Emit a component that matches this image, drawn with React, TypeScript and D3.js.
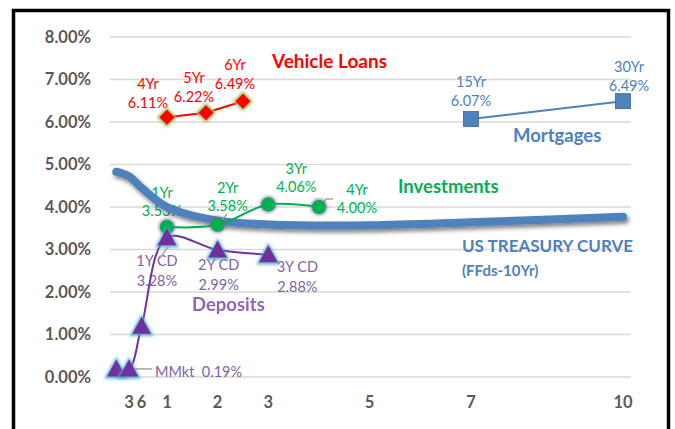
import React from 'react';
import * as d3 from 'd3';

// tenor positions (years) on the horizontal axis
const xTicks = [0.25, 0.5, 1, 2, 3, 5, 7, 10];
const xTickLabels = ['3', '6', '1', '2', '3', '5', '7', '10'];
const yTicks = [0, 1, 2, 3, 4, 5, 6, 7, 8];

// US treasury curve, FFds to 10yr
const treasuryX = [0, 0.25, 0.5, 1, 2, 3, 5, 7, 10];
const treasuryY = [4.83, 4.72, 4.45, 4.0, 3.68, 3.59, 3.57, 3.64, 3.77];

const vehicleX = [1, 1.77, 2.5];
const vehicleY = [6.11, 6.22, 6.49];
const vehicleTerms = ['4Yr', '5Yr', '6Yr'];

const mortgageX = [7, 10];
const mortgageY = [6.07, 6.49];
const mortgageTerms = ['15Yr', '30Yr'];

const investX = [1, 2, 3, 4];
const investY = [3.53, 3.58, 4.06, 4.0];
const investTerms = ['1Yr', '2Yr', '3Yr', '4Yr'];

const depositX = [0, 0.25, 0.5, 1, 2, 3];
const depositY = [0.19, 0.19, 1.2, 3.28, 2.99, 2.88];
const depositTerms = ['', 'MMkt', '', '1Y CD', '2Y CD', '3Y CD'];

const FONT = "Lato, 'Open Sans', sans-serif";
const BLUE = '#4f81bd';
const RED = '#ff0000';
const GREEN = '#00b050';
const PURPLE = '#7030a0';
const PURPLE_TXT = '#8064a2';
const GRAY = '#595959';

const x = d3.scaleLinear().domain([0, 10]).range([116.3, 623]);
const y = d3.scaleLinear().domain([0, 8]).range([377, 37]);

const pts = (xs: number[], ys: number[]) => xs.map((v, i) => [v, ys[i]] as [number, number]);

const smooth = d3.line<[number, number]>()
  .x(d => x(d[0]))
  .y(d => y(d[1]))
  .curve(d3.curveCatmullRom.alpha(0.5));

const straight = d3.line<[number, number]>()
  .x(d => x(d[0]))
  .y(d => y(d[1]));

const pct = (v: number) => v.toFixed(2) + '%';

// label offsets relative to point (dx, dy of first line baseline)
const vehicleLbl = [[-19, -28], [-12, -30], [-8, -31]];
const mortgageLbl = [[0, -32], [6, -29]];
const investLbl = [[-5, -29], [10, -32], [28, -30], [38, -12]];
const depositLbl = [[0, 0], [0, 0], [0, 0], [-10, 28], [1, 20], [29, 17]];

export default function App() {
  const tri = (s: number) => `M0,${-s * 0.55}L${s * 0.55},${s * 0.45}L${-s * 0.55},${s * 0.45}Z`;
  const dia = (s: number) => `M0,${-s}L${s},0L0,${s}L${-s},0Z`;

  return (
    <svg width={675} height={429} style={{ position: 'absolute', left: 0, top: 0, background: '#fff' }}
      fontFamily={FONT}>
      <defs>
        <filter id="blur" x="-50%" y="-50%" width="200%" height="200%">
          <feGaussianBlur stdDeviation="1.6" />
        </filter>
        <filter id="shadow" x="-10%" y="-50%" width="120%" height="200%">
          <feDropShadow dx="2" dy="3" stdDeviation="2" floodColor="#000" floodOpacity="0.5" />
        </filter>
      </defs>
      <rect x={0} y={0} width={675} height={429} fill="#fff" />
      <rect x={13.5} y={10.5} width={655} height={500} fill="#fff" stroke="#000" strokeWidth={3.5} />

      {/* gridlines */}
      {yTicks.map(t => (
        <line key={t} x1={110} x2={631} y1={y(t)} y2={y(t)} stroke="#d9d9d9" strokeWidth={1.5} />
      ))}
      {yTicks.map(t => (
        <text key={t} x={91} y={y(t) + 5.5} textAnchor="end" fontSize={16.5} fontWeight="bold" fill={GRAY}>
          {t.toFixed(2)}%
        </text>
      ))}
      {xTicks.map((t, i) => (
        <text key={i} x={x(t)} y={408} textAnchor="middle" fontSize={16.5} fontWeight="bold" fill={GRAY}>
          {xTickLabels[i]}
        </text>
      ))}

      {/* data labels */}
      {vehicleX.map((v, i) => (
        <g key={i} fill={RED} fontSize={14.5} textAnchor="middle">
          <text x={x(v) + vehicleLbl[i][0]} y={y(vehicleY[i]) + vehicleLbl[i][1]}>{vehicleTerms[i]}</text>
          <text x={x(v) + vehicleLbl[i][0]} y={y(vehicleY[i]) + vehicleLbl[i][1] + 19}>{pct(vehicleY[i])}</text>
        </g>
      ))}
      {mortgageX.map((v, i) => (
        <g key={i} fill={BLUE} fontSize={14.5} textAnchor="middle">
          <text x={x(v) + mortgageLbl[i][0]} y={y(mortgageY[i]) + mortgageLbl[i][1]}>{mortgageTerms[i]}</text>
          <text x={x(v) + mortgageLbl[i][0]} y={y(mortgageY[i]) + mortgageLbl[i][1] + 19}>{pct(mortgageY[i])}</text>
        </g>
      ))}
      {investX.map((v, i) => (
        <g key={i} fill={GREEN} fontSize={14.5} textAnchor="middle">
          <text x={x(v) + investLbl[i][0]} y={y(investY[i]) + investLbl[i][1]}>{investTerms[i]}</text>
          <text x={x(v) + investLbl[i][0]} y={y(investY[i]) + investLbl[i][1] + 18}>{pct(investY[i])}</text>
        </g>
      ))}
      {depositX.map((v, i) => i < 3 ? null : (
        <g key={i} fill={PURPLE_TXT} fontSize={14.5} textAnchor="middle">
          <text x={x(v) + depositLbl[i][0]} y={y(depositY[i]) + depositLbl[i][1]}>{depositTerms[i]}</text>
          <text x={x(v) + depositLbl[i][0]} y={y(depositY[i]) + depositLbl[i][1] + 20}>{pct(depositY[i])}</text>
        </g>
      ))}
      <text x={155} y={377} fill={PURPLE_TXT} fontSize={14.5} xmlSpace="preserve">
        {depositTerms[1] + '  ' + pct(depositY[1])}
      </text>

      {/* series names */}
      <text x={272} y={68} fill={RED} fontSize={19} fontWeight="bold">Vehicle Loans</text>
      <text x={513} y={142} fill={BLUE} fontSize={18.5} fontWeight="bold">Mortgages</text>
      <text x={398} y={193} fill={GREEN} fontSize={18.5} fontWeight="bold">Investments</text>
      <text x={192} y={311} fill={PURPLE} fontSize={18.5} fontWeight="bold" opacity={0.75}>Deposits</text>
      <text x={462} y={252} fill={BLUE} fontSize={17} fontWeight="bold">US TREASURY CURVE</text>
      <text x={462} y={276} fill={BLUE} fontSize={15} fontWeight="bold">(FFds-10Yr)</text>

      {/* treasury curve */}
      <path d={smooth(pts(treasuryX, treasuryY)) ?? ''} fill="none" stroke={BLUE} strokeWidth={8}
        strokeLinecap="round" filter="url(#shadow)" />

      {/* series lines */}
      <path d={straight(pts(vehicleX, vehicleY)) ?? ''} fill="none" stroke={RED} strokeWidth={2} />
      <path d={straight(pts(mortgageX, mortgageY)) ?? ''} fill="none" stroke={BLUE} strokeWidth={2} />
      <path d={smooth(pts(investX, investY)) ?? ''} fill="none" stroke={GREEN} strokeWidth={2} />
      <path d={smooth(pts(depositX, depositY)) ?? ''} fill="none" stroke={PURPLE} strokeWidth={2} />

      {/* leader lines */}
      <g stroke="#a6a6a6" strokeWidth={1.5} fill="none">
        <line x1={x(depositX[1]) + 5} y1={y(depositY[1])} x2={152} y2={y(depositY[1])} />
        <line x1={160} y1={258} x2={168} y2={247} />
        <line x1={227} y1={214} x2={220} y2={222} />
        <polyline points="320,206 326,199 333,199" />
      </g>

      {/* markers */}
      {vehicleX.map((v, i) => (
        <g key={i} transform={`translate(${x(v)},${y(vehicleY[i])})`}>
          <path d={dia(10)} fill="#9bbb59" filter="url(#blur)" />
          <path d={dia(7.5)} fill={RED} />
        </g>
      ))}
      {mortgageX.map((v, i) => (
        <g key={i} transform={`translate(${x(v)},${y(mortgageY[i])})`}>
          <rect x={-7.5} y={-7.5} width={15} height={15} fill={BLUE} stroke="#3a6497" strokeWidth={0.8} />
        </g>
      ))}
      {investX.map((v, i) => (
        <g key={i} transform={`translate(${x(v)},${y(investY[i])})`}>
          <circle r={8.5} fill="#8064a2" opacity={0.7} filter="url(#blur)" />
          <circle r={7} fill={GREEN} />
        </g>
      ))}
      {depositX.map((v, i) => (
        <g key={i} transform={`translate(${x(v)},${y(depositY[i])})`}>
          <path d={tri(22)} fill="#4bacc6" opacity={0.9} filter="url(#blur)" />
          <path d={tri(17)} fill={PURPLE} />
        </g>
      ))}
    </svg>
  );
}
